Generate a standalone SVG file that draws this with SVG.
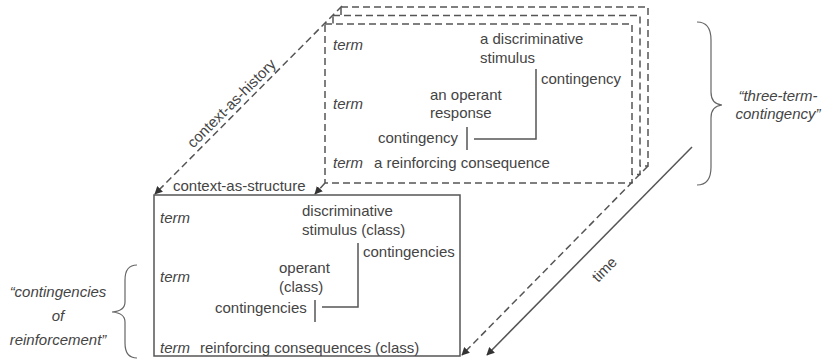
<svg xmlns="http://www.w3.org/2000/svg" width="827" height="360" viewBox="0 0 827 360">
<defs>
<style>
text{font-family:"Liberation Sans",Arial,sans-serif;font-size:15px;fill:#444}
.it{font-style:italic}
.dash{fill:none;stroke:#555;stroke-width:1.5;stroke-dasharray:7 4}
.dash.wf{fill:#fff}
.solid{fill:#fff;stroke:#555;stroke-width:1.5}
.ln{fill:none;stroke:#555;stroke-width:1.5}
.brace{fill:none;stroke:#666;stroke-width:1.2}
</style>
<marker id="ah" viewBox="0 0 10 10" refX="9" refY="5" markerWidth="8" markerHeight="8" markerUnits="userSpaceOnUse" orient="auto">
<path d="M0,0 L10,5 L0,10 z" fill="#333"/>
</marker>
</defs>
<rect width="827" height="360" fill="#fff"/>

<g id="history-frames">
<rect class="dash wf" x="341" y="7" width="307" height="159"/>
<rect class="dash wf" x="333" y="15.5" width="307" height="159"/>
<rect class="dash wf" x="325" y="24" width="307" height="159"/>
<text class="it" x="333" y="50">term</text>
<text x="480" y="44">a discriminative</text>
<text x="480" y="63">stimulus</text>
<text x="541" y="84">contingency</text>
<path class="ln" d="M536,69 V139 H474"/>
<text class="it" x="333" y="109">term</text>
<text x="430" y="100">an operant</text>
<text x="430" y="118">response</text>
<text x="378" y="143">contingency</text>
<path class="ln" d="M467,127 V150"/>
<text class="it" x="333" y="168">term</text>
<text x="374" y="168">a reinforcing consequence</text>
</g>

<g id="structure-frame">
<rect class="solid" x="154" y="195" width="306" height="161"/>
<text class="it" x="160" y="223">term</text>
<text x="302" y="216">discriminative</text>
<text x="302" y="235">stimulus (class)</text>
<text x="363" y="257">contingencies</text>
<path class="ln" d="M358,243 V307 H322"/>
<text class="it" x="160" y="282">term</text>
<text x="279" y="273">operant</text>
<text x="279" y="292">(class)</text>
<text x="215" y="313">contingencies</text>
<path class="ln" d="M315,300 V322"/>
<text class="it" x="160" y="353">term</text>
<text x="200" y="353">reinforcing consequences (class)</text>
</g>

<g id="connectors">
<path class="dash" d="M342,6 L155,194" marker-end="url(#ah)"/>
<path class="dash" d="M325,183 L315,194" marker-end="url(#ah)"/>
<path class="dash" d="M648,166 L462,355" marker-end="url(#ah)"/>
<path class="ln" stroke-width="1.3" d="M692,147 L487,355" marker-end="url(#ah)"/>
</g>

<g id="label-history">
<text x="235" y="107" text-anchor="middle" transform="rotate(-45 235 107)">context-as-history</text>
</g>
<g id="label-structure">
<text x="173" y="191">context-as-structure</text>
</g>
<g id="label-time">
<text x="608" y="273" text-anchor="middle" transform="rotate(-45 608 273)">time</text>
</g>

<g id="brace-three-term">
<path class="brace" d="M697,22 Q711,22 711,40 L711,92 Q711,104 722,105 Q711,106 711,118 L711,167 Q711,185 697,185"/>
<text class="it" x="778" y="101" text-anchor="middle">“three-term-</text>
<text class="it" x="778" y="119" text-anchor="middle">contingency”</text>
</g>

<g id="brace-contingencies">
<path class="brace" d="M137,265 Q125,265 125,280 L125,302 Q125,311 112,312 Q125,313 125,322 L125,343 Q125,358 137,358"/>
<text class="it" x="58" y="297" text-anchor="middle">“contingencies</text>
<text class="it" x="58" y="321" text-anchor="middle">of</text>
<text class="it" x="58" y="345" text-anchor="middle">reinforcement”</text>
</g>
</svg>
